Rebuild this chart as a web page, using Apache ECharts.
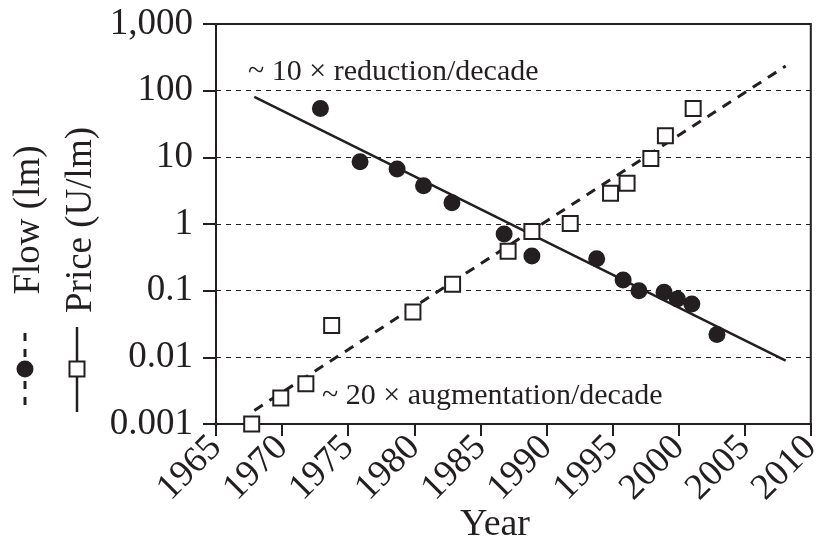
<!DOCTYPE html>
<html>
<head>
<meta charset="utf-8">
<script src="https://cdn.jsdelivr.net/npm/echarts@6/dist/echarts.min.js"></script>
<style>
html,body{margin:0;padding:0;background:#fff;}
#chart{width:826px;height:540px;}
</style>
</head>
<body>
<div id="chart"></div>
<script>
// ---- data ----
var priceYears  = [1972.9, 1975.9, 1978.7, 1980.7, 1982.85, 1986.8, 1988.9, 1993.8, 1995.8, 1997.0, 1998.9, 1999.9, 2001.0, 2002.9];
var priceValues = [54, 8.6, 6.7, 3.75, 2.09, 0.71, 0.33, 0.30, 0.145, 0.10, 0.095, 0.075, 0.063, 0.022];
var flowYears   = [1967.7, 1969.9, 1971.8, 1973.75, 1979.9, 1982.9, 1987.1, 1988.9, 1991.8, 1994.85, 1996.1, 1997.9, 1999.0, 2001.1];
var flowValues  = [0.001, 0.00245, 0.004, 0.030, 0.048, 0.125, 0.39, 0.77, 1.02, 2.9, 4.1, 9.6, 21, 54];
var trendYears  = [1967.9, 2008.1];
var priceTrend  = [81, 0.0089];
var flowTrend   = [0.0016, 234];
var yTickValues = [0.001, 0.01, 0.1, 1, 10, 100, 1000];
var yTickLabels = ['0.001', '0.01', '0.1', '1', '10', '100', '1,000'];
var xTickLabels = ['1965','1970','1975','1980','1985','1990','1995','2000','2005','2010'];
var texts = {
  reduction: '~ 10 \u00d7 reduction/decade',
  augmentation: '~ 20 \u00d7 augmentation/decade',
  xName: 'Year',
  flowName: 'Flow (lm)',
  priceName: 'Price (U/lm)'
};

function zip(xs, ys){ return xs.map(function(x,i){ return [x, ys[i]]; }); }

var INK = '#231f20';
var FONT = '"Liberation Serif", "DejaVu Serif", serif';

var chart = echarts.init(document.getElementById('chart'), null, {renderer:'canvas'});
var option = {
  animation: false,
  backgroundColor: '#fff',
  grid: {left: 216, right: 10, top: 24, bottom: 116, show: true, borderColor: INK, borderWidth: 2, backgroundColor: 'transparent'},
  xAxis: {
    type: 'value', min: 1965, max: 2010, interval: 5,
    axisLine: {show: true, lineStyle: {color: INK, width: 2}},
    axisTick: {show: true, length: 12, lineStyle: {color: INK, width: 2}},
    splitLine: {show: false},
    axisLabel: {
      rotate: 45, margin: 18, color: INK, fontFamily: FONT, fontSize: 37,
      formatter: function(v){ var i = Math.round((v - 1965) / 5); return xTickLabels[i] || ''; }
    }
  },
  yAxis: {
    type: 'log', logBase: 10, min: 0.001, max: 1000,
    axisLine: {show: true, lineStyle: {color: INK, width: 2}},
    axisTick: {show: true, length: 13, lineStyle: {color: INK, width: 2}},
    minorTick: {show: false},
    splitLine: {show: true, lineStyle: {color: INK, width: 1, type: [5, 5]}},
    axisLabel: {
      margin: 23, color: INK, fontFamily: FONT, fontSize: 37,
      formatter: function(v){
        var e = Math.round(Math.log(v) / Math.LN10);
        for (var i = 0; i < yTickValues.length; i++) {
          if (Math.round(Math.log(yTickValues[i]) / Math.LN10) === e) return yTickLabels[i];
        }
        return '';
      }
    }
  },
  series: [
    {
      type: 'line', data: zip(trendYears, priceTrend), symbol: 'none', z: 2,
      lineStyle: {color: INK, width: 2.5, type: 'solid'}
    },
    {
      type: 'line', data: zip(trendYears, flowTrend), symbol: 'none', z: 2,
      lineStyle: {color: INK, width: 3, type: [10, 8]}
    },
    {
      type: 'scatter', data: zip(priceYears, priceValues), symbol: 'circle', symbolSize: 17, z: 3,
      itemStyle: {color: INK, opacity: 1}
    },
    {
      type: 'scatter', data: zip(flowYears, flowValues), symbol: 'rect', symbolSize: 15, z: 3,
      itemStyle: {color: '#fff', borderColor: INK, borderWidth: 2, opacity: 1}
    }
  ],
  graphic: [
    {type: 'text', left: 248, top: 57, z: 10,
     style: {text: texts.reduction, fill: INK, font: '30px ' + FONT}},
    {type: 'text', left: 322, top: 381, z: 10,
     style: {text: texts.augmentation, fill: INK, font: '30px ' + FONT}},
    {type: 'text', x: 495, y: 525, z: 10,
     style: {text: texts.xName, fill: INK, font: '38px ' + FONT, align: 'center', verticalAlign: 'middle'}},
    {type: 'text', x: 29, y: 220, rotation: Math.PI / 2, z: 10,
     style: {text: texts.flowName, fill: INK, font: '37px ' + FONT, align: 'center', verticalAlign: 'middle'}},
    {type: 'text', x: 81, y: 220, rotation: Math.PI / 2, z: 10,
     style: {text: texts.priceName, fill: INK, font: '37px ' + FONT, align: 'center', verticalAlign: 'middle'}},
    {type: 'line', z: 10, shape: {x1: 25, y1: 333, x2: 25, y2: 412},
     style: {stroke: INK, lineWidth: 3, lineDash: [8, 8]}},
    {type: 'circle', z: 11, shape: {cx: 25, cy: 369, r: 8.5}, style: {fill: INK}},
    {type: 'line', z: 10, shape: {x1: 77, y1: 327, x2: 77, y2: 412},
     style: {stroke: INK, lineWidth: 2.5}},
    {type: 'rect', z: 11, shape: {x: 69.5, y: 361.5, width: 15, height: 15},
     style: {fill: '#fff', stroke: INK, lineWidth: 2}}
  ]
};
chart.setOption(option);
</script>
</body>
</html>
